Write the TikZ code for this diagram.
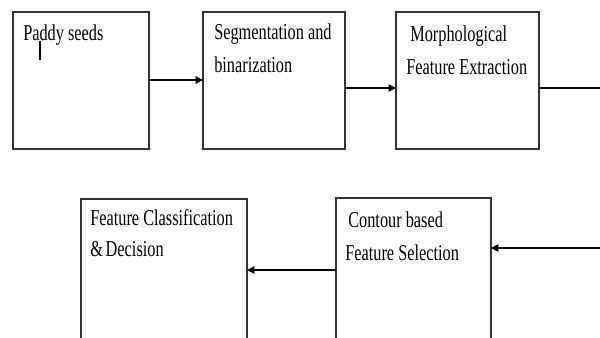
\documentclass[tikz,border=0pt]{standalone}
\usepackage{fontspec}
\setmainfont{Liberation Serif}[FakeStretch=0.72]
\usetikzlibrary{arrows.meta}

\tikzset{
  stage/.style={rectangle,draw=black!80,line width=0.9pt,anchor=north west,inner sep=0pt,outer sep=0pt,minimum height=102.75pt},
  lbl/.style={anchor=base west,inner sep=0pt,font=\fontsize{17}{20}\selectfont},
  arr/.style={line width=0.9pt,-{Triangle[length=5.5pt,width=5.5pt]}}
}

\begin{document}
\begin{tikzpicture}[x=0.75pt,y=-0.75pt]
\useasboundingbox (0,0) rectangle (600,337);
\clip (0,0) rectangle (600,337);

% top row
\node (seeds)[stage,minimum width=102pt] at (13,12) {};
\node (segm)[stage,minimum width=106.5pt] at (203,12) {};
\node (morph)[stage,minimum width=107.25pt] at (396,12) {};

% bottom row
\node (contour)[stage,minimum width=116.25pt,minimum height=115pt] at (336,198) {};
\node (classif)[stage,minimum width=124.5pt,minimum height=115pt] at (81,199) {};

% texts
\node (tseeds)[lbl] at (23,40) {Paddy seeds};
\node (tsegma)[lbl] at (214,39) {Segmentation and};
\node (tsegmb)[lbl] at (214,72) {binarization};
\node (tmorpha)[lbl] at (410,41) {Morphological};
\node (tmorphb)[lbl] at (406,74) {Feature Extraction};
\node (tconta)[lbl] at (348,227) {Contour based};
\node (tcontb)[lbl] at (345,260) {Feature Selection};
\node (tclassa)[lbl] at (90,225) {Feature Classification};
\node (tclassb)[lbl] at (90,256) {\&\kern-1pt\ Decision};

% cursor mark
\draw[line width=0.9pt] (40,41) -- (40,60);

% connectors
\coordinate (ya) at (0,80);
\coordinate (yb) at (0,88);
\coordinate (outR) at (600,88);
\coordinate (inR) at (600,248);
\coordinate (yc) at (0,270);
\draw[arr] (seeds.east |- ya) -- (segm.west |- ya);
\draw[arr] (segm.east |- yb) -- (morph.west |- yb);
\draw[line width=0.9pt] (morph.east |- yb) -- (outR);
\draw[arr] (inR) -- (contour.east |- inR);
\draw[arr] (contour.west |- yc) -- (classif.east |- yc);
\end{tikzpicture}
\end{document}
